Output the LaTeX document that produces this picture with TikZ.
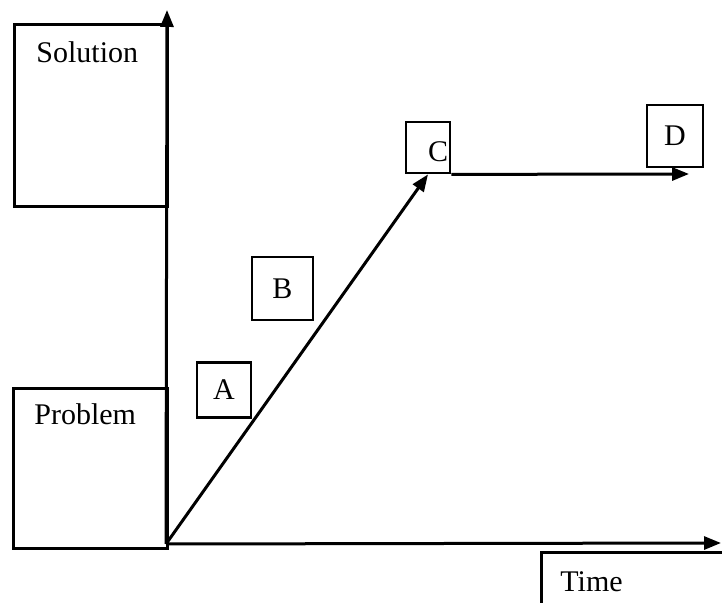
\documentclass[tikz,border=0pt]{standalone}
\usepackage{fontspec}
\setmainfont{Liberation Serif}
\usetikzlibrary{arrows.meta}

\begin{document}
\begin{tikzpicture}[x=0.5pt, y=-0.5pt, font=\fontsize{15}{18}\selectfont,
  box/.style={rectangle, draw, line width=1.4pt, inner sep=0pt},
  tag/.style={box, align=center},
  caption/.style={anchor=west, inner sep=0pt},
  axis/.style={-{Triangle[length=8.5pt, width=6.5pt]}, line width=1.5pt},
]
  \useasboundingbox (0,0) rectangle (722,603);
  \coordinate (o) at (166,544);
  \coordinate (ytip) at (167,10);
  \coordinate (xtip) at (721,543);
  \coordinate (dtip) at (689,174);
  % quadrants of the problem / solution axis
  \node[box, anchor=north west, minimum width=76.5pt, minimum height=91pt] (sol) at (13,23) {};
  \node[caption] (soltxt) at (36,52) {Solution};
  \node[box, anchor=north west, minimum width=77pt, minimum height=80pt] (prob) at (12,387) {};
  \node[caption] (probtxt) at (34,414) {Problem};
  % stages along the path
  \node[tag, minimum width=27pt, minimum height=27.5pt] (a) at (224,390) {A};
  \node[tag, minimum width=30.5pt, minimum height=31.5pt] (b) at (282.5,288.5) {B};
  \node[box, minimum width=22pt, minimum height=25.5pt] (c) at (428,147.5) {};
  \node (ctxt) at (438,152) {C};
  \node[tag, minimum width=28pt, minimum height=31pt] (d) at (675,136) {D};
  \begin{scope}
    \clip (0,0) rectangle (722,603);
    \node[box, anchor=north west, minimum width=100pt, minimum height=35pt] (time) at (540,551) {};
  \end{scope}
  \node[caption] (timetxt) at (560,582) {Time};
  \draw[axis] (o) -- (ytip);
  \draw[axis] (o) -- (xtip);
  \draw[axis] (o) -- (c.south);
  \draw[axis] (c.south east) -- (dtip);
\end{tikzpicture}
\end{document}
